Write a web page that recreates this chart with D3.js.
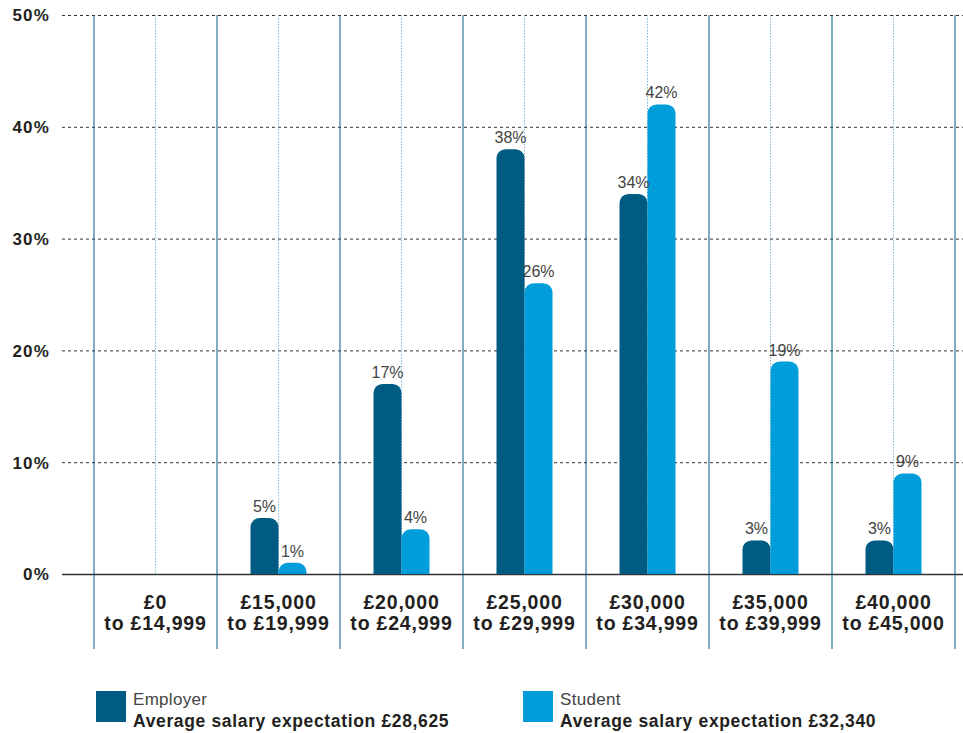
<!DOCTYPE html>
<html>
<head>
<meta charset="utf-8">
<script src="https://cdn.jsdelivr.net/npm/d3@7"></script>
<style>
  body { margin: 0; background: #fff; }
  svg { display: block; font-family: "Liberation Sans", Arial, sans-serif; }
</style>
</head>
<body>
<svg id="chart" width="963" height="733"></svg>
<script>
const CATEGORIES = [
  ["£0", "to £14,999"],
  ["£15,000", "to £19,999"],
  ["£20,000", "to £24,999"],
  ["£25,000", "to £29,999"],
  ["£30,000", "to £34,999"],
  ["£35,000", "to £39,999"],
  ["£40,000", "to £45,000"],
];
const EMPLOYER = [0, 5, 17, 38, 34, 3, 3];
const STUDENT = [0, 1, 4, 26, 42, 19, 9];
const Y_TICKS = [0, 10, 20, 30, 40, 50];
const SERIES = ["Employer", "Student"];
const LEGEND_SUB = ["Average salary expectation £28,625", "Average salary expectation £32,340"];
const COLORS = ["#005b82", "#009ddb"];

const svg = d3.select("#chart");

const margin = { top: 15, left: 62, right: 963, bottom: 574 };

const x = d3
  .scaleBand()
  .domain(d3.range(CATEGORIES.length))
  .range([94, 955])
  .padding(0);

const barW = 28;
const sub = d3
  .scaleBand()
  .domain(SERIES)
  .range([x.bandwidth() / 2 - barW, x.bandwidth() / 2 + barW]);

const y = d3.scaleLinear().domain([0, 50]).range([margin.bottom, margin.top]);

const color = d3.scaleOrdinal().domain(SERIES).range(COLORS);

// horizontal gridlines + y labels
const yAxis = svg
  .append("g")
  .attr("transform", `translate(${margin.left},0)`)
  .call(
    d3.axisRight(y)
      .tickValues(Y_TICKS)
      .tickSize(margin.right - margin.left)
      .tickFormat((d) => d + "%")
  )
  .call((g) => g.select(".domain").remove());

yAxis.selectAll(".tick line")
  .attr("stroke", "#333")
  .attr("stroke-dasharray", (d) => (d === 0 ? null : "3,3"))
  .attr("stroke-width", (d) => (d === 0 ? 1.5 : 1));

yAxis.selectAll(".tick text")
  .attr("x", -12)
  .attr("dy", "0.35em")
  .attr("text-anchor", "end")
  .attr("fill", "#231f20")
  .attr("font-size", 17)
  .attr("letter-spacing", 1.2)
  .attr("font-weight", "bold");

// category separators
const seps = x.domain().map((d) => x(d)).concat([x.range()[1]]);
svg.append("g")
  .selectAll("line")
  .data(seps)
  .join("line")
  .attr("x1", (d) => d)
  .attr("x2", (d) => d)
  .attr("y1", margin.top)
  .attr("y2", 649)
  .attr("stroke", "#005b82")
  .attr("stroke-width", 1);

// dotted centre lines
svg.append("g")
  .selectAll("line")
  .data(x.domain())
  .join("line")
  .attr("x1", (d) => x(d) + x.bandwidth() / 2)
  .attr("x2", (d) => x(d) + x.bandwidth() / 2)
  .attr("y1", margin.top)
  .attr("y2", margin.bottom)
  .attr("stroke", "#7fb6d2")
  .attr("stroke-dasharray", "1.5,1.5")
  .attr("stroke-width", 1);

const barShape = (x0, w, top, bottom, r) => {
  const h = bottom - top;
  const rr = Math.min(r, h, w / 2);
  return `M${x0},${bottom}
    V${top + rr}
    A${rr},${rr} 0 0 1 ${x0 + rr},${top}
    H${x0 + w - rr}
    A${rr},${rr} 0 0 1 ${x0 + w},${top + rr}
    V${bottom}Z`;
};

const rows = CATEGORIES.map((c, i) => ({
  i,
  values: [
    { key: "Employer", value: EMPLOYER[i] },
    { key: "Student", value: STUDENT[i] },
  ],
}));

const groups = svg.append("g")
  .selectAll("g")
  .data(rows)
  .join("g")
  .attr("transform", (d) => `translate(${x(d.i)},0)`);

groups.selectAll("path")
  .data((d) => d.values.filter((v) => v.value > 0))
  .join("path")
  .attr("d", (v) => barShape(sub(v.key), sub.bandwidth(), y(v.value), y(0), 9))
  .attr("fill", (v) => color(v.key));

groups.selectAll("text.val")
  .data((d) => d.values.filter((v) => v.value > 0))
  .join("text")
  .attr("class", "val")
  .attr("x", (v) => sub(v.key) + sub.bandwidth() / 2)
  .attr("y", (v) => y(v.value) - 6)
  .attr("text-anchor", "middle")
  .attr("font-size", 16)
  .attr("fill", "#444")
  .text((v) => v.value + "%");

// category labels
const catLabels = svg.append("g")
  .selectAll("text")
  .data(CATEGORIES)
  .join("text")
  .attr("x", (d, i) => x(i) + x.bandwidth() / 2)
  .attr("y", 609)
  .attr("text-anchor", "middle")
  .attr("font-size", 19.5)
  .attr("letter-spacing", 0.8)
  .attr("font-weight", "bold")
  .attr("fill", "#231f20");

catLabels.selectAll("tspan")
  .data((d) => d)
  .join("tspan")
  .attr("x", function () { return d3.select(this.parentNode).attr("x"); })
  .attr("dy", (d, j) => (j === 0 ? 0 : 21))
  .text((d) => d);

// legend
const legendX = [96, 523];
const legend = svg.append("g")
  .selectAll("g")
  .data(SERIES)
  .join("g")
  .attr("transform", (d, i) => `translate(${legendX[i]},691)`);

legend.append("rect")
  .attr("width", 30)
  .attr("height", 31)
  .attr("fill", (d) => color(d));

legend.append("text")
  .attr("x", 37)
  .attr("y", 14)
  .attr("font-size", 17)
  .attr("letter-spacing", 0.3)
  .attr("fill", "#444")
  .text((d) => d);

legend.append("text")
  .attr("x", 37)
  .attr("y", 36)
  .attr("font-size", 17.5)
  .attr("letter-spacing", 0.65)
  .attr("font-weight", "bold")
  .attr("fill", "#231f20")
  .text((d, i) => LEGEND_SUB[i]);
</script>
</body>
</html>
